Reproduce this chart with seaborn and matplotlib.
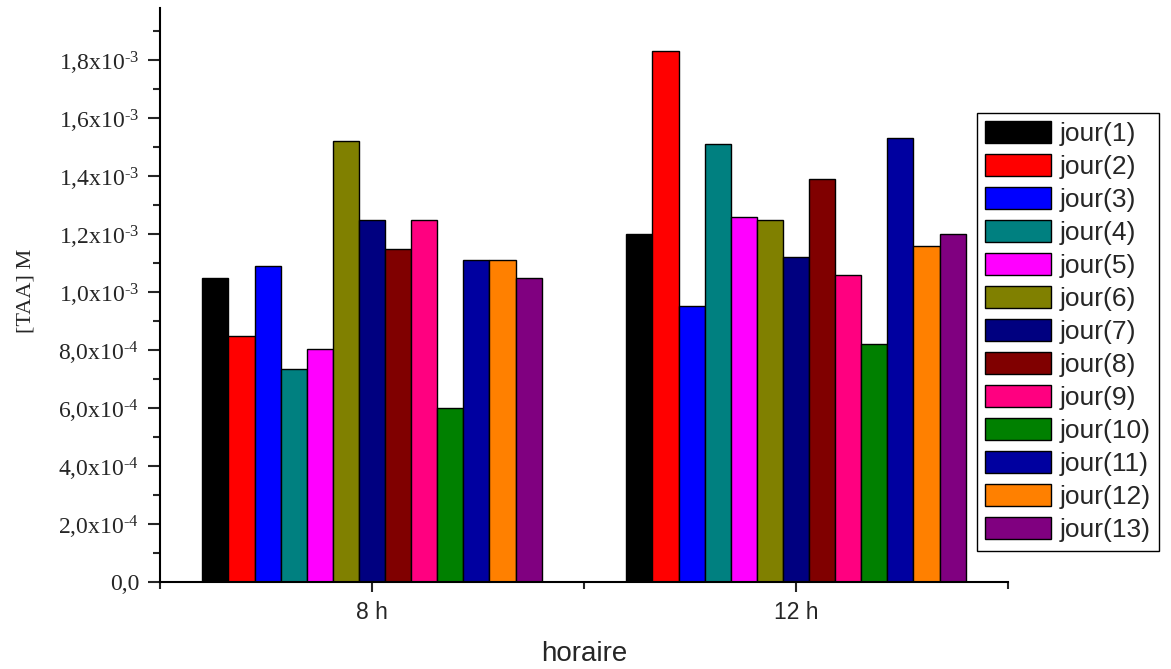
import numpy as np
import pandas as pd
import matplotlib
matplotlib.use("Agg")
import matplotlib.pyplot as plt
import seaborn as sns
from matplotlib.ticker import FixedLocator
from matplotlib.patches import Patch

# ---------------- data ----------------
horaires = ["8 h", "12 h"]
jours = ["jour(1)", "jour(2)", "jour(3)", "jour(4)", "jour(5)", "jour(6)", "jour(7)",
         "jour(8)", "jour(9)", "jour(10)", "jour(11)", "jour(12)", "jour(13)"]
taa_8h = [1.05e-3, 0.85e-3, 1.09e-3, 0.735e-3, 0.805e-3, 1.52e-3, 1.25e-3,
          1.15e-3, 1.25e-3, 0.60e-3, 1.11e-3, 1.11e-3, 1.05e-3]
taa_12h = [1.20e-3, 1.83e-3, 0.953e-3, 1.51e-3, 1.26e-3, 1.25e-3, 1.12e-3,
           1.39e-3, 1.06e-3, 0.82e-3, 1.53e-3, 1.16e-3, 1.20e-3]
colors = ["#000000", "#FF0000", "#0000FF", "#008080", "#FF00FF", "#808000", "#000080",
          "#800000", "#FF0080", "#008000", "#0000A0", "#FF8000", "#800080"]
ytick_values = [0, 2e-4, 4e-4, 6e-4, 8e-4, 1.0e-3, 1.2e-3, 1.4e-3, 1.6e-3, 1.8e-3]
ytick_labels = ["0,0", "2,0x10$^{\u20104}$", "4,0x10$^{\u20104}$", "6,0x10$^{\u20104}$",
                "8,0x10$^{\u20104}$", "1,0x10$^{\u20103}$", "1,2x10$^{\u20103}$",
                "1,4x10$^{\u20103}$", "1,6x10$^{\u20103}$", "1,8x10$^{\u20103}$"]
yminor_values = [1e-4, 3e-4, 5e-4, 7e-4, 9e-4, 1.1e-3, 1.3e-3, 1.5e-3, 1.7e-3, 1.9e-3]

df = pd.DataFrame({
    "horaire": [h for h in horaires for _ in jours],
    "jour": jours * len(horaires),
    "TAA": taa_8h + taa_12h,
})

# ---------------- style ----------------
sns.set_style("ticks")
plt.rcParams["font.family"] = ["Liberation Sans", "DejaVu Sans"]
plt.rcParams["mathtext.fontset"] = "custom"
plt.rcParams["mathtext.rm"] = "Liberation Serif"
plt.rcParams["mathtext.it"] = "Liberation Serif:italic"
plt.rcParams["mathtext.bf"] = "Liberation Serif:bold"

fig = plt.figure(figsize=(11.71, 6.69), dpi=100)
ax = fig.add_axes([160 / 1171, 87 / 669, 848 / 1171, 574 / 669])

sns.barplot(data=df, x="horaire", y="TAA", hue="jour", order=horaires, hue_order=jours,
            palette=colors, saturation=1, width=0.8, edgecolor="black", linewidth=1.0,
            errorbar=None, ax=ax, legend=False)

ax.set_xlim(-0.5, 1.5)
ax.set_ylim(0, 1.98e-3)

for s in ["top", "right"]:
    ax.spines[s].set_visible(False)
for s in ["left", "bottom"]:
    ax.spines[s].set_linewidth(1.5)
    ax.spines[s].set_color("black")

ax.yaxis.set_major_locator(FixedLocator(ytick_values))
ax.set_yticklabels(ytick_labels, fontfamily="Liberation Serif", fontsize=17)
ax.yaxis.set_minor_locator(FixedLocator(yminor_values))
ax.xaxis.set_minor_locator(FixedLocator([-0.5, 0.5, 1.5]))
ax.tick_params(axis="y", which="major", length=9, width=1.5, pad=6, direction="out")
ax.tick_params(axis="y", which="minor", length=5, width=1.5, direction="out")
ax.tick_params(axis="x", which="major", length=7, width=1.5, pad=7, labelsize=16.5)
ax.tick_params(axis="x", which="minor", length=5, width=1.5)

ax.set_ylabel("[TAA] M", fontfamily="Liberation Serif", fontsize=16)
ax.yaxis.set_label_coords(-0.147, 0.507)
ax.set_xlabel("horaire", fontsize=20)
ax.xaxis.set_label_coords(0.5, -0.103)

handles = [Patch(facecolor=c, edgecolor="black", linewidth=1.0) for c in colors]
leg = fig.legend(handles, jours, loc="upper left",
                 bbox_to_anchor=(977 / 1171, 1 - 113 / 669), bbox_transform=fig.transFigure,
                 fontsize=19, frameon=True, fancybox=False, framealpha=1,
                 edgecolor="black", handlelength=2.5, handleheight=0.9,
                 handletextpad=0.3, labelspacing=0.3, borderpad=0.32, borderaxespad=0)
leg.get_frame().set_linewidth(1.0)

fig.savefig("out.png", dpi=100)
